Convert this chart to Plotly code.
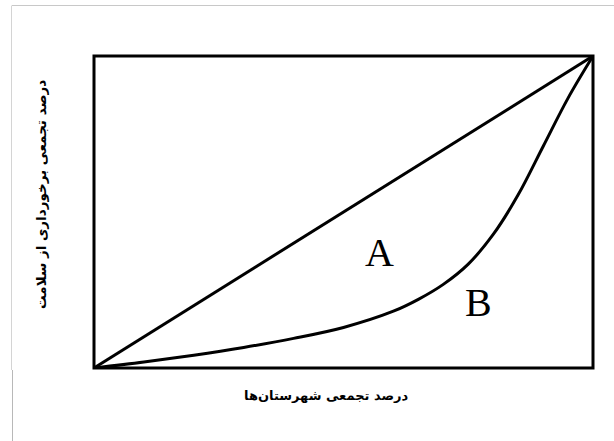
import plotly.graph_objects as go

# cumulative share of counties (%) and cumulative health access (%)
cum_pop = [0, 10, 20, 30, 40, 50, 60, 65, 70, 75, 80, 85, 90, 95, 100]
cum_health = [0, 1.9, 4.1, 6.6, 9.5, 13.0, 18.2, 22.0, 26.8, 33.3, 42.8, 55.5, 71.0, 86.5, 100]
equality = [0, 100]

x_title = "درصد تجمعی شهرستان\u200cها"
y_title = "درصد تجمعی برخورداری از سلامت"
label_a = "A"
label_b = "B"

W, H = 614, 441
L, R, T, B = 94, 21, 56, 73
PW, PH = W - L - R, H - T - B

def px(x):
    return (x - L) / PW

def py(y):
    return (H - B - y) / PH

fig = go.Figure()
fig.add_trace(go.Scatter(x=equality, y=equality, mode="lines",
                         line=dict(color="black", width=3), hoverinfo="skip"))
fig.add_trace(go.Scatter(x=cum_pop, y=cum_health, mode="lines",
                         line=dict(color="black", width=3, shape="spline", smoothing=1.0),
                         hoverinfo="skip"))

shapes = [
    dict(type="rect", xref="paper", yref="paper", x0=0, x1=1, y0=0, y1=1,
         line=dict(color="black", width=3), layer="above"),
    dict(type="line", xref="paper", yref="paper", x0=px(12), x1=px(614), y0=py(5.5), y1=py(5.5),
         line=dict(color="#c8c8c8", width=1)),
    dict(type="line", xref="paper", yref="paper", x0=px(11.5), x1=px(11.5), y0=py(5.5), y1=py(370),
         line=dict(color="#d4d4d4", width=1)),
    dict(type="line", xref="paper", yref="paper", x0=px(12.5), x1=px(12.5), y0=py(370), y1=py(441),
         line=dict(color="#b8b8b8", width=1)),
]

annotations = [
    dict(text=label_a, x=px(379), y=py(252), xref="paper", yref="paper", showarrow=False,
         font=dict(family="Liberation Serif", size=40, color="black"), xanchor="center", yanchor="middle"),
    dict(text=label_b, x=px(478.5), y=py(302), xref="paper", yref="paper", showarrow=False,
         font=dict(family="Liberation Serif", size=40, color="black"), xanchor="center", yanchor="middle"),
    dict(text="<b>" + x_title + "</b>", x=px(326), y=py(395), xref="paper", yref="paper", showarrow=False,
         font=dict(family="DejaVu Sans", size=13, color="black"), xanchor="center", yanchor="middle"),
    dict(text="<b>" + y_title + "</b>", x=px(41), y=py(195), xref="paper", yref="paper", showarrow=False,
         textangle=-90,
         font=dict(family="DejaVu Sans", size=13.5, color="black"), xanchor="center", yanchor="middle"),
]

fig.update_layout(
    width=W, height=H,
    margin=dict(l=L, r=R, t=T, b=B),
    paper_bgcolor="white", plot_bgcolor="white",
    showlegend=False,
    xaxis=dict(range=[0, 100], showgrid=False, zeroline=False, showticklabels=False, ticks=""),
    yaxis=dict(range=[0, 100], showgrid=False, zeroline=False, showticklabels=False, ticks=""),
    shapes=shapes,
    annotations=annotations,
)

fig.write_html("out.html", config={"displayModeBar": False},
               post_script="document.body.style.margin='0';document.body.style.overflow='hidden';")
